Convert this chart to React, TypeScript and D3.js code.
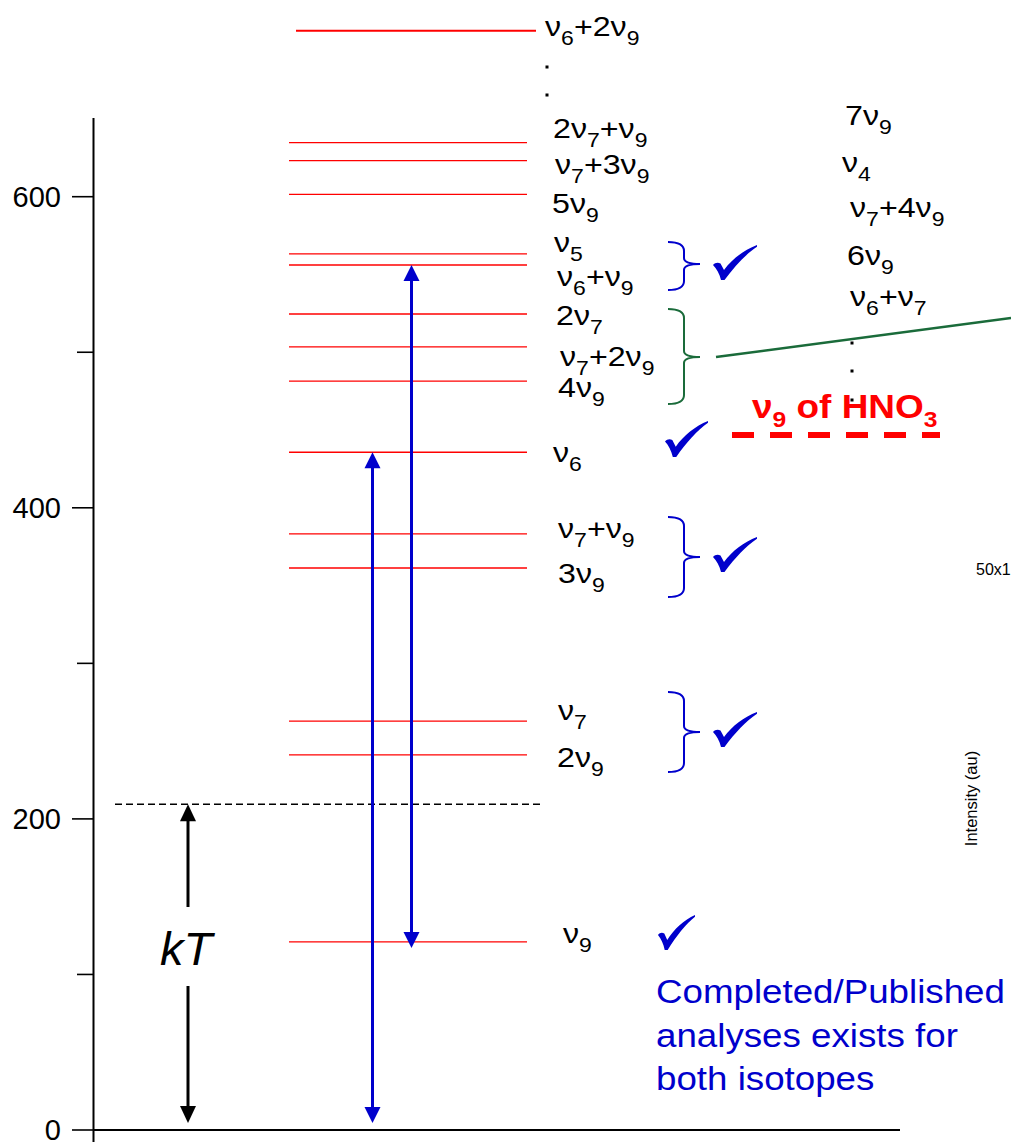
import React from "react";
import * as d3 from "d3";

// ---------- data ----------
const levelLabels = [
  "ν_6+2ν_9", "2ν_7+ν_9", "ν_7+3ν_9", "5ν_9", "ν_5", "ν_6+ν_9", "2ν_7",
  "ν_7+2ν_9", "4ν_9", "ν_6", "ν_7+ν_9", "3ν_9", "ν_7", "2ν_9", "ν_9",
];
const levelEnergies = [
  706.7, 634.7, 623.2, 601.5, 563.2, 556.1, 524.6, 503.4, 481.5, 435.7,
  383.2, 361.3, 262.9, 241.1, 120.9,
];
const extraLabels = ["7ν_9", "ν_4", "ν_7+4ν_9", "6ν_9", "ν_6+ν_7"];
const yTicks = [0, 100, 200, 300, 400, 500, 600];
const yTickLabels = ["0", "", "200", "", "400", "", "600"];
const kTEnergy = 209.4;
const hno3Energy = 446.8;
// transitions drawn as blue arrows: [from, to]
const transitions: [number, number][] = [
  [0, 435.7],
  [120.9, 556.1],
];
const noteLines = ["Completed/Published", "analyses exists for", "both isotopes"];

// ---------- layout ----------
const W = 1011;
const H = 1142;
const AX = 93.5;
const y = d3.scaleLinear().domain([0, 600]).range([1130, 196.7]);

const leftLabelPos: [number, number][] = [
  [545, 36], [553, 138], [555, 174], [552, 213], [554, 252], [557, 286],
  [556, 325], [560, 366], [558, 397], [553, 462], [558, 538], [558, 583],
  [558, 720], [557, 767], [563, 943],
];
const rightLabelPos: [number, number][] = [
  [845, 125], [842, 172], [850, 217], [847, 265], [850, 306],
];
const checks: [number, number, number, number][] = [
  [713, 245, 44, 35],
  [665, 421, 43, 36],
  [713, 537, 44, 35],
  [713, 712, 44, 35],
  [658, 915, 37, 35],
];
const braces: { top: number; bot: number; tip: number; color: string }[] = [
  { top: 242, bot: 290, tip: 264, color: "#0000cc" },
  { top: 309, bot: 404, tip: 357, color: "#1a6b3a" },
  { top: 517, bot: 597, tip: 557, color: "#0000cc" },
  { top: 692, bot: 772, tip: 732, color: "#0000cc" },
];

const FONT = "'Liberation Sans', Arial, Helvetica, sans-serif";
const BLUE = "#0000cc";

function parseSegs(s: string): { t: string; sub: boolean }[] {
  const out: { t: string; sub: boolean }[] = [];
  for (let i = 0; i < s.length; i++) {
    if (s[i] === "_" && i + 1 < s.length) {
      out.push({ t: s[i + 1], sub: true });
      i++;
    } else {
      const last = out[out.length - 1];
      if (last && !last.sub) last.t += s[i];
      else out.push({ t: s[i], sub: false });
    }
  }
  return out;
}

function Label({
  x, yy, text, size = 28, sub = 20, sx = 1.15, fill = "#000", weight = "normal", dy = 9,
}: {
  x: number; yy: number; text: string; size?: number; sub?: number; sx?: number;
  fill?: string; weight?: string; dy?: number;
}) {
  const segs = parseSegs(text);
  let cur = 0;
  return (
    <text
      transform={`translate(${x},${yy}) scale(${sx},1)`}
      fontFamily={FONT}
      fontSize={size}
      fill={fill}
      fontWeight={weight}
    >
      {segs.map((s, i) => {
        const shift = (s.sub ? dy : 0) - cur;
        cur = s.sub ? dy : 0;
        return (
          <tspan key={i} dy={shift} fontSize={s.sub ? sub : size}>
            {s.t}
          </tspan>
        );
      })}
    </text>
  );
}

function bracePath(top: number, bot: number, tip: number) {
  const xl = 668, xm = 684, xt = 700;
  return `M${xl},${top} Q${xm},${top} ${xm},${top + 9} L${xm},${tip - 6} Q${xm},${tip} ${xt},${tip} Q${xm},${tip} ${xm},${tip + 6} L${xm},${bot - 9} Q${xm},${bot} ${xl},${bot}`;
}

const CHECK =
  "M0,20 C2,17.5 5,17 7.5,18.5 L11,25 C19,14 31,5 44,0 L44,1.8 C33,9 22,21 11.5,35 L8,35 C6.5,29 3.5,23.5 0,20 Z";

function Arrow({ x, y1, y2, color, w = 3, hw = 8, hl = 16 }: any) {
  // y1 top, y2 bottom; heads at both ends
  return (
    <g>
      <line x1={x} x2={x} y1={y1 + hl - 1} y2={y2 - hl + 1} stroke={color} strokeWidth={w} />
      <polygon points={`${x},${y1} ${x - hw},${y1 + hl} ${x + hw},${y1 + hl}`} fill={color} />
      <polygon points={`${x},${y2} ${x - hw},${y2 - hl} ${x + hw},${y2 - hl}`} fill={color} />
    </g>
  );
}

export default function App() {
  const gx = 716, gy = 357;
  const slope = (318 - 357) / (1011 - 716);
  return (
    <div style={{ position: "absolute", left: 0, top: 0 }}>
      <svg width={W} height={H} viewBox={`0 0 ${W} ${H}`} style={{ display: "block", background: "#fff" }}>
        <rect width={W} height={H} fill="#fff" />
        {/* energy levels */}
        {levelEnergies.map((e, i) => (
          <line
            key={i}
            x1={i === 0 ? 296 : 289}
            x2={i === 0 ? 536 : 527}
            y1={y(e)}
            y2={y(e)}
            stroke="#ff0000"
            strokeWidth={i === 0 ? 2 : 1.3}
          />
        ))}
        {/* axes */}
        <line x1={AX} x2={AX} y1={118} y2={H} stroke="#000" strokeWidth={2} />
        <line x1={AX} x2={900} y1={y(0)} y2={y(0)} stroke="#000" strokeWidth={2} />
        {yTicks.map((t, i) => (
          <g key={t}>
            <line
              x1={yTickLabels[i] ? 72 : 77}
              x2={AX}
              y1={y(t)}
              y2={y(t)}
              stroke="#000"
              strokeWidth={1.6}
            />
            {yTickLabels[i] && (
              <text
                x={61}
                y={y(t) + 10}
                textAnchor="end"
                fontFamily={FONT}
                fontSize={29}
              >
                {yTickLabels[i]}
              </text>
            )}
          </g>
        ))}
        {/* kT dashed */}
        <line x1={115} x2={540} y1={y(kTEnergy)} y2={y(kTEnergy)} stroke="#000" strokeWidth={1.5} strokeDasharray="7,4" />
        {/* kT arrow */}
        <line x1={188} x2={188} y1={y(kTEnergy) + 16} y2={907} stroke="#000" strokeWidth={3} />
        <polygon points={`188,${y(kTEnergy)} 180,${y(kTEnergy) + 17} 196,${y(kTEnergy) + 17}`} fill="#000" />
        <line x1={188} x2={188} y1={986} y2={1107} stroke="#000" strokeWidth={3} />
        <polygon points={`188,1123 180,1106 196,1106`} fill="#000" />
        <text x={186} y={965} textAnchor="middle" fontFamily={FONT} fontStyle="italic" fontSize={47}>
          kT
        </text>
        {/* transitions */}
        <Arrow x={372.5} y1={y(transitions[0][1])} y2={1123} color={BLUE} />
        <Arrow x={411.5} y1={y(transitions[1][1])} y2={y(transitions[1][0]) + 6} color={BLUE} />
        {/* braces */}
        {braces.map((b, i) => (
          <path key={i} d={bracePath(b.top, b.bot, b.tip)} fill="none" stroke={b.color} strokeWidth={2} />
        ))}
        <line x1={gx} y1={gy} x2={1011} y2={gy + slope * (1011 - gx)} stroke="#1a6b3a" strokeWidth={2.5} />
        {/* labels */}
        {levelLabels.map((l, i) => (
          <Label key={i} x={leftLabelPos[i][0]} yy={leftLabelPos[i][1]} text={l} />
        ))}
        {extraLabels.map((l, i) => (
          <Label key={i} x={rightLabelPos[i][0]} yy={rightLabelPos[i][1]} text={l} />
        ))}
        {/* dots */}
        {[[547, 67], [547, 95], [852, 343], [852, 371]].map(([dx, dy], i) => (
          <rect key={i} x={dx - 1.5} y={dy - 1.5} width={3} height={3} fill="#000" />
        ))}
        {/* checks */}
        {checks.map(([cx, cy, cw, ch], i) => (
          <path key={i} d={CHECK} fill={BLUE} transform={`translate(${cx},${cy}) scale(${cw / 44},${ch / 35})`} />
        ))}
        {/* HNO3 */}
        <line x1={732} x2={940} y1={y(hno3Energy)} y2={y(hno3Energy)} stroke="#ff0000" strokeWidth={6} strokeDasharray="22,16" />
        <Label x={752} yy={418} text="ν_9 of HNO_3" size={33} sub={22} sx={1.12} fill="#ff0000" weight="bold" dy={9} />
        <rect x={850.5} y={398.5} width={3} height={3} fill="#000" />
        {/* note */}
        {noteLines.map((t, i) => (
          <text
            key={i}
            transform={`translate(656,${1003 + i * 43.5}) scale(1.08,1)`}
            fontFamily={FONT}
            fontSize={34}
            fill={BLUE}
          >
            {t}
          </text>
        ))}
        {/* spectrum fragment */}
        <text x={976} y={575} fontFamily={FONT} fontSize={16}>
          50x1
        </text>
        <text
          transform="translate(977,798.5) rotate(-90)"
          textAnchor="middle"
          fontFamily={FONT}
          fontSize={16.5}
        >
          Intensity (au)
        </text>
      </svg>
    </div>
  );
}
